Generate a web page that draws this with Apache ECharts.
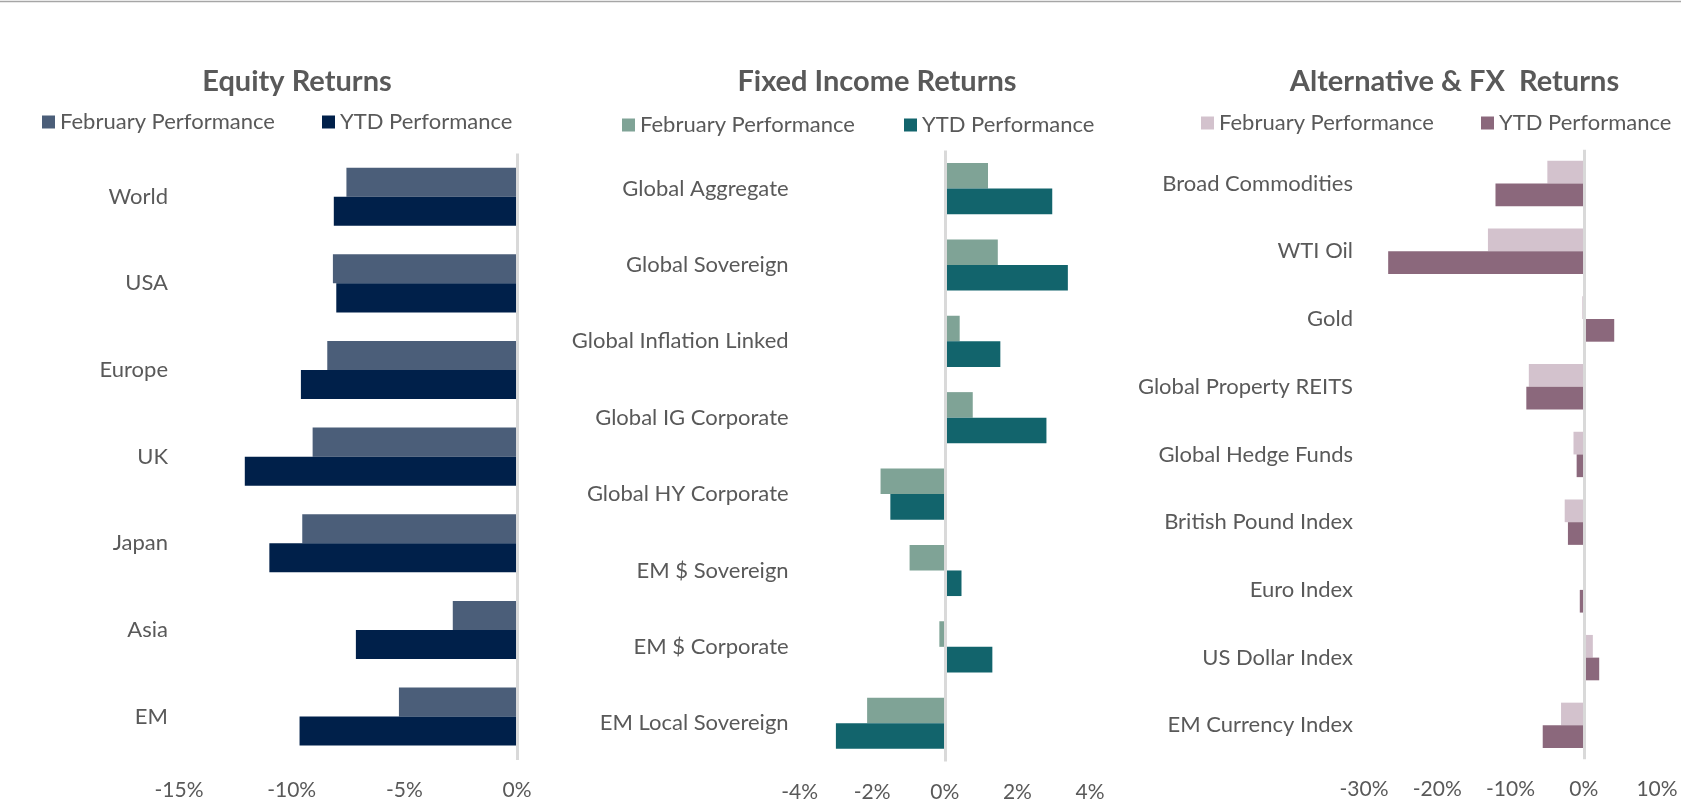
<!DOCTYPE html>
<html>
<head>
<meta charset="utf-8">
<script src="https://cdn.jsdelivr.net/npm/echarts@6.0.0/dist/echarts.min.js"></script>
<style>
html,body{margin:0;padding:0;background:#fff;}
#chart{width:1681px;height:808px;}
</style>
</head>
<body>
<div id="chart"></div>
<script>
// ---- Data ----
const equityCategories = ['World', 'USA', 'Europe', 'UK', 'Japan', 'Asia', 'EM'];
const equityFeb = [-7.57, -8.17, -8.42, -9.07, -9.53, -2.85, -5.24];
const equityYTD = [-8.13, -8.02, -9.59, -12.08, -10.99, -7.15, -9.65];

const fixedCategories = ['Global Aggregate', 'Global Sovereign', 'Global Inflation Linked', 'Global IG Corporate', 'Global HY Corporate', 'EM $ Sovereign', 'EM $ Corporate', 'EM Local Sovereign'];
const fixedFeb = [1.19, 1.46, 0.41, 0.77, -1.77, -0.97, -0.15, -2.14];
const fixedYTD = [2.96, 3.39, 1.53, 2.80, -1.50, 0.46, 1.31, -3.00];

const altCategories = ['Broad Commodities', 'WTI Oil', 'Gold', 'Global Property REITS', 'Global Hedge Funds', 'British Pound Index', 'Euro Index', 'US Dollar Index', 'EM Currency Index'];
const altFeb = [-4.97, -13.08, -0.2, -7.5, -1.4, -2.6, 0.2, 1.24, -3.1];
const altYTD = [-12.05, -26.7, 4.16, -7.84, -0.97, -2.16, -0.54, 2.11, -5.6];

const titles = ['Equity Returns', 'Fixed Income Returns', 'Alternative & FX  Returns'];
const legendNames = ['February Performance', 'YTD Performance'];

const equityTicks = {min: -15, max: 0, interval: 5};
const fixedTicks = {min: -4, max: 4, interval: 2};
const altTicks = {min: -30, max: 10, interval: 10};

// ---- Layout / style ----
const FONT = 'Lato, "Open Sans", sans-serif';
const TXT = '#595959';
const panels = [
  {cats: equityCategories, feb: equityFeb, ytd: equityYTD, ticks: equityTicks,
   grid: {left: 179, top: 153.4, width: 338, height: 606.5},
   colors: ['#4B5E79', '#00204A'], titleX: 292, legendX: [37, 317], legendTop: 106},
  {cats: fixedCategories, feb: fixedFeb, ytd: fixedYTD, ticks: fixedTicks,
   grid: {left: 799.6, top: 150.4, width: 290.4, height: 611},
   colors: ['#7FA396', '#12646C'], titleX: 872, legendX: [617, 899], legendTop: 109},
  {cats: altCategories, feb: altFeb, ytd: altYTD, ticks: altTicks,
   grid: {left: 1364, top: 149.7, width: 293, height: 609.5},
   colors: ['#D3C2CD', '#8B687C'], titleX: 1449.5, legendX: [1196, 1476], legendTop: 107}
];

const option = {
  animation: false,
  backgroundColor: '#fff',
  title: [], legend: [], grid: [], xAxis: [], yAxis: [], series: [],
  graphic: [{type: 'line', shape: {x1: 0, y1: 1.5, x2: 1681, y2: 1.5}, style: {stroke: '#a6a6a6', lineWidth: 1.5}}]
};

panels.forEach((p, i) => {
  option.title.push({
    text: titles[i], left: p.titleX, top: 62, textAlign: 'center',
    textStyle: {fontFamily: FONT, fontSize: 29, fontWeight: 'bold', color: TXT}
  });
  option.grid.push(Object.assign({containLabel: false}, p.grid));
  option.xAxis.push({
    type: 'value', gridIndex: i, min: p.ticks.min, max: p.ticks.max, interval: p.ticks.interval,
    axisLine: {show: false}, axisTick: {show: false}, splitLine: {show: false},
    axisLabel: {formatter: '{value}%', fontFamily: FONT, fontSize: 21, color: TXT, margin: 20}
  });
  option.yAxis.push({
    type: 'category', gridIndex: i, data: p.cats, inverse: true,
    axisLine: {show: false}, axisTick: {show: false}, splitLine: {show: false},
    axisLabel: {fontFamily: FONT, fontSize: 22, color: TXT, margin: 11}
  });
  const febName = 'feb' + i, ytdName = 'ytd' + i;
  option.series.push({
    name: febName, type: 'bar', xAxisIndex: i, yAxisIndex: i, data: p.feb,
    barGap: '0%', barCategoryGap: '33%', itemStyle: {color: p.colors[0]},
    markLine: {silent: true, symbol: 'none', label: {show: false},
      lineStyle: {color: '#d9d9d9', width: 3, type: 'solid'}, data: [{xAxis: 0}]}
  });
  option.series.push({
    name: ytdName, type: 'bar', xAxisIndex: i, yAxisIndex: i, data: p.ytd,
    barGap: '0%', barCategoryGap: '33%', itemStyle: {color: p.colors[1]}
  });
  [febName, ytdName].forEach((n, k) => {
    option.legend.push({
      data: [n], left: p.legendX[k], top: p.legendTop, itemWidth: 13, itemHeight: 13, itemGap: 6,
      icon: 'rect', selectedMode: false,
      formatter: () => legendNames[k],
      textStyle: {fontFamily: FONT, fontSize: 22, color: TXT}
    });
  });
});

const chart = echarts.init(document.getElementById('chart'), null, {renderer: 'canvas'});
chart.setOption(option);
</script>
</body>
</html>
